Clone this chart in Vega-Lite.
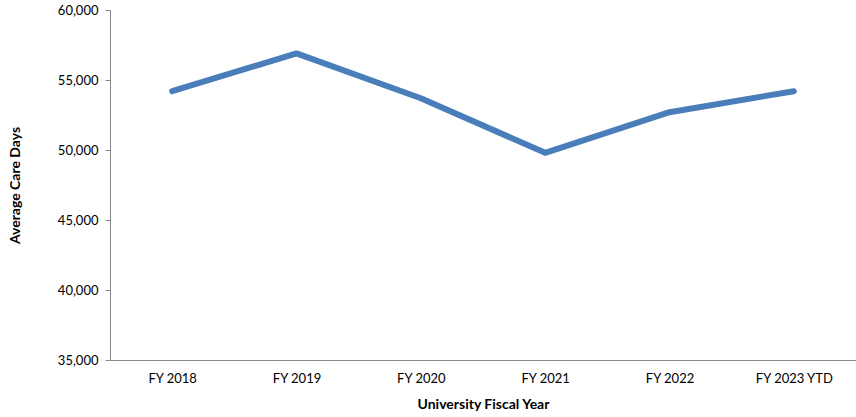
{
  "$schema": "https://vega.github.io/schema/vega-lite/v6.json",
  "autosize": "none",
  "padding": {"left": 110, "top": 10, "right": 0, "bottom": 57},
  "width": 746,
  "height": 350,
  "config": {"view": {"stroke": null}, "font": "Lato"},
  "data": {"values": [
    {"year": "FY 2018", "days": 54200},
    {"year": "FY 2019", "days": 56900},
    {"year": "FY 2020", "days": 53700},
    {"year": "FY 2021", "days": 49800},
    {"year": "FY 2022", "days": 52700},
    {"year": "FY 2023 YTD", "days": 54200}
  ]},
  "mark": {"type": "line", "color": "#4a7ebb", "strokeWidth": 6, "strokeCap": "round", "strokeJoin": "round"},
  "encoding": {
    "x": {"field": "year", "type": "ordinal", "sort": null,
      "scale": {"paddingInner": 0, "paddingOuter": 0.5},
      "axis": {"title": "University Fiscal Year", "labelAngle": 0, "ticks": false, "grid": false,
        "domainColor": "#888888", "labelFont": "Lato", "labelFontSize": 13, "labelColor": "#000000",
        "labelPadding": 12, "titleFont": "Lato", "titleFontSize": 14, "titleFontWeight": "bold",
        "titleColor": "#000000", "titlePadding": 12}},
    "y": {"field": "days", "type": "quantitative",
      "scale": {"domain": [35000, 60000], "zero": false, "nice": false},
      "axis": {"title": "Average Care Days", "values": [35000, 40000, 45000, 50000, 55000, 60000],
        "format": ",.0f", "grid": false, "tickSize": 5, "tickColor": "#888888", "domainColor": "#888888",
        "labelFont": "Lato", "labelFontSize": 13, "labelColor": "#000000", "labelPadding": 7,
        "titleFont": "Lato", "titleFontSize": 14, "titleFontWeight": "bold", "titleColor": "#000000",
        "titlePadding": 35}}
  }
}
